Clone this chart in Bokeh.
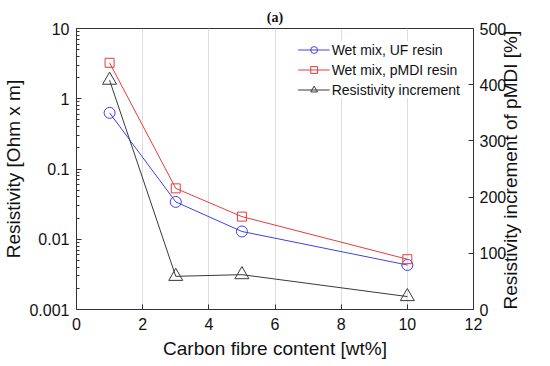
import math
from bokeh.plotting import figure
from bokeh.models import (Range1d, LinearAxis, LinearScale, FixedTicker, Legend,
                          LegendItem, Title)
from bokeh.embed import file_html
from bokeh.resources import INLINE

# ---- data ----
fibre = [1, 3, 5, 10]
uf_resin = [0.63, 0.034, 0.0129, 0.0043]
pmdi_resin = [3.25, 0.053, 0.021, 0.0052]
increment = [408, 59, 62, 23]

x_ticks = [0, 2, 4, 6, 8, 10, 12]
y_ticks = [0.001, 0.01, 0.1, 1, 10]
y_tick_labels = ["0.001", "0.01", "0.1", "1", "10"]
y2_ticks = [0, 100, 200, 300, 400, 500]

FONT = "Liberation Sans"
AX = "#333333"
TXT = "#111111"
BLUE = "#4040e8"
RED = "#ea3b3b"
DARK = "#3a3a3a"

p = figure(width=534, height=361, y_axis_type="log",
           x_range=Range1d(0, 12), y_range=Range1d(0.001, 10),
           output_backend="svg", toolbar_location=None,
           min_border_left=72, min_border_right=60,
           min_border_top=28, min_border_bottom=51)

p.title = Title(text="(a)", align="center", text_font="Liberation Serif",
                text_font_size="14px", text_font_style="bold", text_color=TXT,
                offset=-7, standoff=7)

p.outline_line_color = AX
p.outline_line_width = 1
p.background_fill_color = "white"
p.border_fill_color = "white"

# grids
p.ygrid.grid_line_color = None
p.xgrid.grid_line_color = "#dedede"
p.xgrid.ticker = FixedTicker(ticks=x_ticks)

# x axis
xa = p.xaxis[0]
xa.ticker = FixedTicker(ticks=x_ticks)
xa.axis_label = "Carbon fibre content [wt%]"

# y axis (log)
minor = []
for d in y_ticks[:-1]:
    for k in range(2, 10):
        minor.append(d * k)
ya = p.yaxis[0]
ya.ticker = FixedTicker(ticks=y_ticks, minor_ticks=minor)
ya.major_label_overrides = {t: s for t, s in zip(y_ticks, y_tick_labels)}
ya.axis_label = "Resistivity [Ohm x m]"

# right axis
p.extra_y_ranges = {"inc": Range1d(0, 500)}
p.extra_y_scales = {"inc": LinearScale()}
ya2 = LinearAxis(y_range_name="inc", ticker=FixedTicker(ticks=y2_ticks),
                 axis_label="Resistivity increment of pMDI [%]")
p.add_layout(ya2, "right")
try:
    ya2.axis_label_orientation = math.pi / 2
    ya2.axis_label_align = "start"
except Exception:
    pass

for ax in [xa, ya, ya2]:
    ax.axis_line_color = AX
    ax.major_tick_line_color = AX
    ax.minor_tick_line_color = AX
    ax.major_tick_in = 5
    ax.major_tick_out = 0
    ax.minor_tick_in = 3
    ax.minor_tick_out = 0
    ax.major_label_text_font = FONT
    ax.major_label_text_font_size = "16px"
    ax.major_label_text_color = TXT
    ax.major_label_standoff = 7
    ax.axis_label_text_font = FONT
    ax.axis_label_text_font_size = "19px"
    ax.axis_label_text_font_style = "normal"
    ax.axis_label_text_color = TXT
xa.minor_tick_line_color = None
ya2.minor_tick_line_color = None
xa.major_label_standoff = 8
xa.axis_label_standoff = 5
ya.axis_label_standoff = 2
ya2.major_label_standoff = 6
ya2.axis_label_standoff = 1

# series
l1 = p.line(fibre, uf_resin, line_color=BLUE, line_width=1)
s1 = p.scatter(fibre, uf_resin, marker="circle", size=11, fill_color=None,
               line_color=BLUE, line_width=1)
l2 = p.line(fibre, pmdi_resin, line_color=RED, line_width=1)
s2 = p.scatter(fibre, pmdi_resin, marker="square", size=9, fill_color=None,
               line_color=RED, line_width=1)
l3 = p.line(fibre, increment, line_color=DARK, line_width=1, y_range_name="inc")
s3 = p.scatter(fibre, increment, marker="triangle", size=14, fill_color=None,
               line_color=DARK, line_width=1, y_range_name="inc")

legend = Legend(items=[
    LegendItem(label="Wet mix, UF resin", renderers=[l1, s1]),
    LegendItem(label="Wet mix, pMDI resin", renderers=[l2, s2]),
    LegendItem(label="Resistivity increment", renderers=[l3, s3]),
], location="top_right")
legend.border_line_color = None
legend.background_fill_color = "white"
legend.background_fill_alpha = 1
legend.label_text_font = FONT
legend.label_text_font_size = "14px"
legend.label_text_color = TXT
legend.glyph_width = 32
legend.glyph_height = 17
legend.label_height = 17
legend.spacing = 3
legend.label_standoff = 2
legend.padding = 6
legend.margin = 13
p.add_layout(legend)

open("out.html", "w").write(file_html(p, INLINE))
